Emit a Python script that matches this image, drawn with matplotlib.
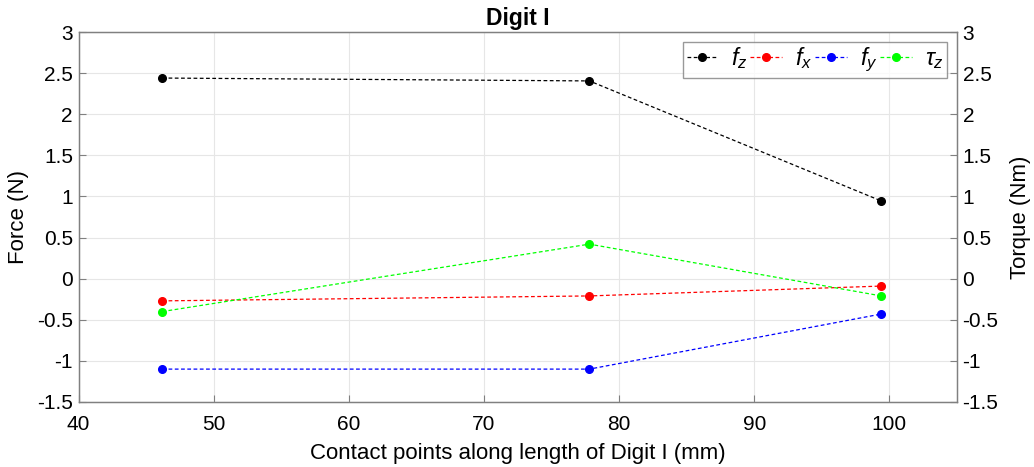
import matplotlib
matplotlib.use("Agg")
import matplotlib.pyplot as plt

plt.rcParams['font.family'] = ['Liberation Sans', 'DejaVu Sans']
plt.rcParams['mathtext.fontset'] = 'custom'
plt.rcParams['mathtext.it'] = 'Liberation Sans:italic'
plt.rcParams['mathtext.rm'] = 'Liberation Sans'

# Contact positions along the digit (mm)
positions = [46.2, 77.8, 99.4]

# Measured forces (N) and torque (Nm) at each contact point
f_z = [2.44, 2.405, 0.945]
f_x = [-0.27, -0.21, -0.09]
f_y = [-1.10, -1.10, -0.43]
tau_z = [-0.40, 0.42, -0.21]

series = [
    (f_z, 'black', r'$f_z$'),
    (f_x, 'red', r'$f_x$'),
    (f_y, 'blue', r'$f_y$'),
    (tau_z, '#00ff00', r'$\tau_z$'),
]

fig = plt.figure(figsize=(10.34, 4.67), dpi=100)
ax = fig.add_axes([78.5 / 1034, 1 - 402 / 467, (957 - 78.5) / 1034, (402 - 32) / 467])

for values, color, label in series:
    ax.plot(positions, values, linestyle='--', dashes=(3, 2), color=color, lw=0.9,
            marker='o', markersize=5.5, markerfacecolor=color, markeredgecolor=color,
            label=label)

ax.set_xlim(40, 105)
ax.set_ylim(-1.5, 3)
ax.set_xticks(range(40, 101, 10))
yticks = [-1.5, -1, -0.5, 0, 0.5, 1, 1.5, 2, 2.5, 3]
ax.set_yticks(yticks)
ax.set_yticklabels([f'{t:g}' for t in yticks])
ax.grid(True, color='#e6e6e6', lw=0.8)
ax.set_axisbelow(True)

spine_color = '#808080'
for s in ax.spines.values():
    s.set_color(spine_color)
    s.set_linewidth(1.0)
ax.tick_params(direction='in', length=5, color=spine_color, labelsize=15,
               labelcolor='black', pad=4)
ax.tick_params(axis='x', pad=9)

ax.set_xlabel('Contact points along length of Digit I (mm)', fontsize=16, labelpad=7)
ax.set_ylabel('Force (N)', fontsize=16, labelpad=6)
ax.set_title('Digit I', fontsize=16.5, fontweight='bold', pad=5)

ax2 = ax.twinx()
ax2.set_ylim(-1.5, 3)
ax2.set_yticks(yticks)
ax2.set_yticklabels([f'{t:g}' for t in yticks])
for s in ax2.spines.values():
    s.set_color(spine_color)
ax2.tick_params(direction='in', length=5, color=spine_color, labelsize=15,
                labelcolor='black', pad=4)
ax2.set_ylabel('Torque (Nm)', fontsize=16, labelpad=8)

handles, labels = ax.get_legend_handles_labels()
leg = ax2.legend(handles, labels, loc='upper right', ncol=4, fontsize=17,
                 frameon=True, fancybox=False, edgecolor=spine_color,
                 handlelength=1.35, handletextpad=0.55, columnspacing=0.1,
                 borderpad=0.15, borderaxespad=0,
                 bbox_to_anchor=(1 - 10 / 878.5, 1 - 10 / 370))
leg.get_frame().set_linewidth(1.0)

fig.savefig('out.png', dpi=100)
